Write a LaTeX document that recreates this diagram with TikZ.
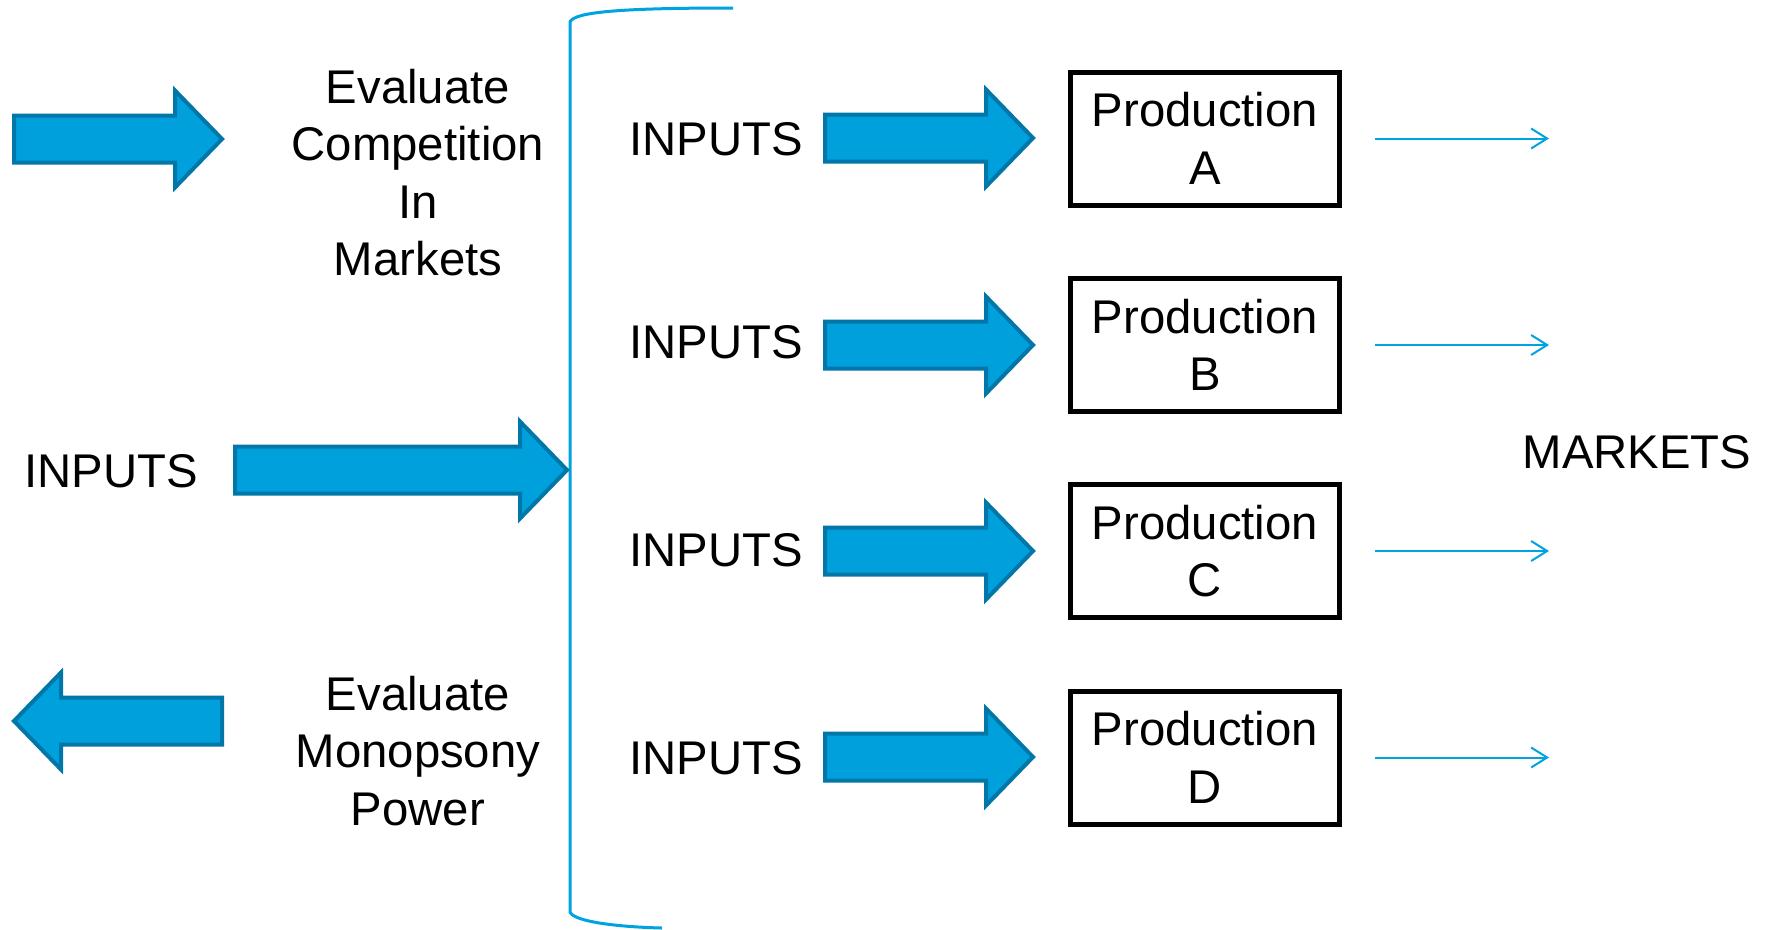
\documentclass[tikz,border=0pt]{standalone}
\usepackage{fontspec}
\setmainfont{Liberation Sans}
\usetikzlibrary{arrows.meta}
\definecolor{arrfill}{HTML}{00A0DC}
\definecolor{arrline}{HTML}{0077A8}
\definecolor{lblue}{HTML}{00A3E0}
\begin{document}
\begin{tikzpicture}[x=1pt,y=-1pt,
  txt/.style={font=\fontsize{47.3}{57.5}\selectfont, inner sep=0pt, align=center},
  prodbox/.style={draw=black, line width=5pt, minimum width=269pt, minimum height=133pt, inner sep=0pt, align=center, font=\fontsize{47.3}{57.5}\selectfont},
  fat/.style={fill=arrfill, draw=arrline, line width=4pt, line join=miter},
  pics/fatarrow/.style={code={\draw[fat] (0,-23.5) -- ({#1-47},-23.5) -- ({#1-47},-48.5) -- (#1,0) -- ({#1-47},48.5) -- ({#1-47},23.5) -- (0,23.5) -- cycle;}},
  thinarr/.style={draw=lblue, line width=2pt, -{Straight Barb[length=16pt,width=20pt]}},
  bracket/.style={draw=lblue, line width=3pt}]
\useasboundingbox (0,0) rectangle (1771,929);

% bracket
\draw[bracket] (733,8) .. controls (620,8) and (574,12) .. (570,22) -- (570,912) .. controls (574,922) and (620,927) .. (662,928);

% big arrows
\pic at (14,139) {fatarrow=208};
\pic at (235,470) {fatarrow=332};
\pic[rotate=180] at (222,721) {fatarrow=208};
\pic at (825,138) {fatarrow=208};
\pic at (825,345) {fatarrow=208};
\pic at (825,551) {fatarrow=208};
\pic at (825,757) {fatarrow=208};

% texts
\node[txt] (evc) at (418,172.5) {Evaluate\\Competition\\In\\Markets};
\node[txt] (mon) at (418,751) {Evaluate\\Monopsony\\Power};
\node[txt] (inL) at (111,471) {INPUTS};
\node[txt] (in1) at (716,139) {INPUTS};
\node[txt] (in2) at (716,342) {INPUTS};
\node[txt] (in3) at (716,550) {INPUTS};
\node[txt] (in4) at (716,758) {INPUTS};
\node[txt] (mk) at (1637,452) {MARKETS};

% production boxes
\node[prodbox] (pA) at (1205,138.5) {Production\\A};
\node[prodbox] (pB) at (1205,345) {Production\\B};
\node[prodbox] (pC) at (1205,551) {Production\\C};
\node[prodbox] (pD) at (1205,757.5) {Production\\D};

% thin arrows
\coordinate (mA) at (1549,138.5);
\coordinate (mB) at (1549,345);
\coordinate (mC) at (1549,551);
\coordinate (mD) at (1549,757.5);
\draw[thinarr, shorten <=33pt] (pA.east) -- (mA);
\draw[thinarr, shorten <=33pt] (pB.east) -- (mB);
\draw[thinarr, shorten <=33pt] (pC.east) -- (mC);
\draw[thinarr, shorten <=33pt] (pD.east) -- (mD);
\end{tikzpicture}
\end{document}
